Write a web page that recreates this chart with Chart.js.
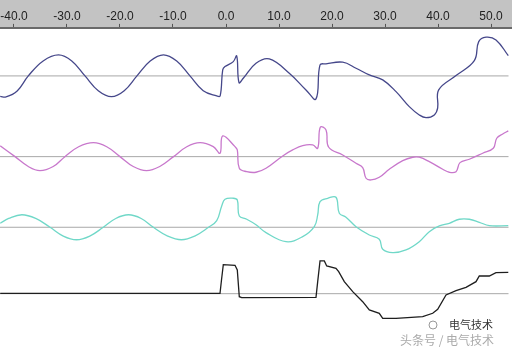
<!DOCTYPE html>
<html>
<head>
<meta charset="utf-8">
<script src="https://cdn.jsdelivr.net/npm/chart.js@4"></script>
<style>
  html, body { margin: 0; padding: 0; background: #fff; }
  #wrap { width: 512px; height: 349px; position: relative; }
</style>
</head>
<body>
<div id="wrap"><canvas id="chart"></canvas></div>
<script>
// time axis (ms) and tick labels
const xMin = -42.64
const xMax = 53.96
const xTicks = [-40, -30, -20, -10, 0, 10, 20, 30, 40, 50]

// channel 1 (navy)
const ch1T = [-42.6, -41.5, -39.4, -37.3, -34.5, -31.6, -29.1, -26.6, -24.1, -21.6, -19.2, -16.8, -14.3, -11.8, -9.3, -6.8, -4.3, -1.75, -1.1,
  -0.62, -0.19, 1.38, 2.02, 2.45, 3.26, 5.66, 8.17, 11.94, 15.09, 16.98, 17.74, 18.87, 22.02, 24.53, 27.04, 29.57, 32.08, 34.58, 36.47, 37.74,
  39.3, 39.94, 40.13, 43.4, 46.85, 47.68, 49.06, 50.94, 53.26]
const ch1V = [-2.05, -2.1, -1.5, 0, 1.5, 2.1, 1.5, 0, -1.48, -2.07, -1.48, 0, 1.48, 2.1, 1.48, 0, -1.48, -2.0, -2.0,
  0.6, 0.93, 1.43, 2.0, -0.67, -0.23, 1.27, 1.7, 0.27, -1.4, -2.3, 1.1, 1.2, 1.37, 0.77, 0.1, -0.4, -1.57, -3.07, -3.9, -4.17,
  -3.9, -3.2, -1.4, 0.03, 1.53, 3.43, 3.87, 3.6, 2.03]

// channel 2 (magenta)
const ch2T = [-42.6, -39.8, -37.3, -35.1, -32.6, -30.4, -27.8, -25.0, -22.5, -20.0, -17.5, -15.0, -12.5, -9.9, -7.4, -4.9, -2.4, -1.13,
  -0.62, 1.7, 2.13, 2.51, 3.91, 5.66, 7.55, 10.7, 12.58, 14.47, 16.36, 17.3, 17.79, 18.87, 19.38, 22.02, 24.53, 25.79, 26.42, 27.36,
  28.92, 30.81, 33.34, 35.23, 36.47, 38.36, 40.89, 42.13, 43.4, 44.15, 45.91, 48.43, 50.43, 51.08, 52.21, 53.26]
const ch2V = [1.08, 0, -0.99, -1.4, -0.99, 0, 0.99, 1.4, 0.99, 0, -0.99, -1.4, -0.99, 0, 0.99, 1.4, 1.0, 0.34,
  2.07, 1.0, 0.67, -1.16, -1.5, -1.56, -1.16, 0.07, 0.67, 1.1, 1.17, 0.84, 2.94, 2.67, 0.94, 0.17, -0.66, -1.1, -2.16, -2.33,
  -2.06, -1.26, -0.4, -0.06, -0.06, -0.5, -1.26, -1.56, -1.5, -0.6, -0.26, 0.34, 0.84, 1.84, 2.27, 2.57]

// channel 3 (cyan)
const ch3T = [-42.6, -41.0, -38.5, -35.9, -33.2, -30.7, -28.2, -25.7, -23.15, -20.8, -18.4, -16.0, -13.7, -11.0, -8.4, -5.9, -3.3, -1.75,
  -0.81, -0.19, 1.38, 2.13, 2.51, 3.91, 5.66, 7.55, 11.32, 14.47, 16.66, 17.3, 17.74, 19.19, 20.75, 21.38, 22.64, 24.53, 27.04,
  28.92, 29.57, 31.45, 33.96, 36.47, 38.36, 40.25, 42.13, 44.02, 45.91, 47.79, 49.68, 53.26]
const ch3V = [0.4, 0.88, 1.25, 0.88, 0, -0.88, -1.25, -0.88, 0, 0.88, 1.25, 0.88, 0, -0.88, -1.25, -0.88, 0, 0.66,
  2.13, 2.8, 2.9, 2.73, 1.13, 0.8, 0.25, -0.54, -1.44, -0.94, 0.06, 1.23, 2.56, 2.9, 3.0, 1.4, 1.0, 0.06, -0.77,
  -1.2, -2.2, -2.54, -2.27, -1.44, -0.44, 0.13, 0.4, 0.8, 0.8, 0.5, 0.16, 0.16]

// channel 4 (black)
const ch4T = [-42.6, -1.13, -0.85, -0.51, 1.7, 2.13, 2.51, 2.96, 16.98, 17.3, 17.74, 18.55, 19.0, 20.75, 21.26, 22.32, 23.91, 25.79,
  27.04, 28.92, 29.57, 32.08, 37.11, 39.0, 39.94, 41.51, 43.4, 45.28, 47.17, 47.79, 49.68, 50.94, 53.26]
const ch4V = [0.04, 0.04, 1.37, 2.9, 2.84, 2.37, -0.3, -0.4, -0.36, 1.2, 3.27, 3.27, 2.77, 2.54, 2.2, 1.2, 0.2, -0.8,
  -1.63, -1.96, -2.46, -2.46, -2.3, -1.96, -1.56, -0.13, 0.3, 0.64, 1.2, 1.77, 1.77, 2.1, 2.14]

const channels = [
  { t: ch1T, v: ch1V, color: '#45478a', tension: 0.4 },
  { t: ch2T, v: ch2V, color: '#c878cc', tension: 0.4 },
  { t: ch3T, v: ch3V, color: '#70d8c8', tension: 0.4 },
  { t: ch4T, v: ch4V, color: '#1e1e1e', tension: 0 }
]
// vertical placement of each trace's zero line
const offsets = [-4.8, -12.87, -19.93, -26.57]

const datasets = []
channels.forEach((ch, i) => {
  datasets.push({
    data: [{ x: xMin, y: offsets[i] }, { x: 53.3, y: offsets[i] }],
    borderColor: '#a8a8a8', borderWidth: 1, pointRadius: 0, tension: 0, order: 5
  })
})
channels.forEach((ch, i) => {
  datasets.push({
    data: ch.t.map((t, k) => ({ x: t, y: ch.v[k] + offsets[i] })),
    borderColor: ch.color, borderWidth: 1.3, pointRadius: 0,
    tension: ch.tension, order: 1
  })
})

const bandPlugin = {
  id: 'band',
  beforeDraw(chart) {
    const { ctx, chartArea } = chart
    ctx.save()
    ctx.fillStyle = '#ffffff'
    ctx.fillRect(0, 0, chart.width, chart.height)
    ctx.fillStyle = '#c3c3c3'
    ctx.fillRect(0, 0, chart.width, chartArea.top)
    ctx.restore()
  },
  afterDraw(chart) {
    const { ctx } = chart
    ctx.save()
    ctx.textBaseline = 'middle'
    ctx.font = '11px "Noto Sans CJK SC"'
    ctx.fillStyle = '#333'
    ctx.textAlign = 'left'
    ctx.fillText('电气技术', 449, 325)
    ctx.strokeStyle = '#999'
    ctx.lineWidth = 1
    ctx.beginPath()
    ctx.arc(433, 325, 4, 0, Math.PI * 2)
    ctx.stroke()
    ctx.font = '12px "Noto Sans CJK SC"'
    ctx.fillStyle = '#aaaaaa'
    ctx.fillText('头条号 / 电气技术', 400, 340)
    ctx.restore()
  }
}

new Chart(document.getElementById('chart'), {
  type: 'line',
  data: { datasets },
  options: {
    responsive: true,
    maintainAspectRatio: false,
    animation: false,
    layout: { padding: { top: 9.5, left: 0, right: 0, bottom: 0 } },
    plugins: { legend: { display: false }, tooltip: { enabled: false } },
    scales: {
      x: {
        type: 'linear',
        position: 'top',
        min: xMin,
        max: xMax,
        afterBuildTicks: (axis) => { axis.ticks = xTicks.map(v => ({ value: v })) },
        ticks: {
          autoSkip: false,
          maxRotation: 0,
          padding: 0,
          color: '#222',
          font: { family: 'Liberation Sans', size: 12 },
          callback: (v) => v.toFixed(1)
        },
        grid: { drawOnChartArea: false, tickLength: 4, color: '#555' },
        border: { color: '#6a6a6a', width: 2 }
      },
      y: {
        type: 'linear',
        display: false,
        min: -32.1,
        max: 0
      }
    }
  },
  plugins: [bandPlugin]
})
</script>
</body>
</html>
